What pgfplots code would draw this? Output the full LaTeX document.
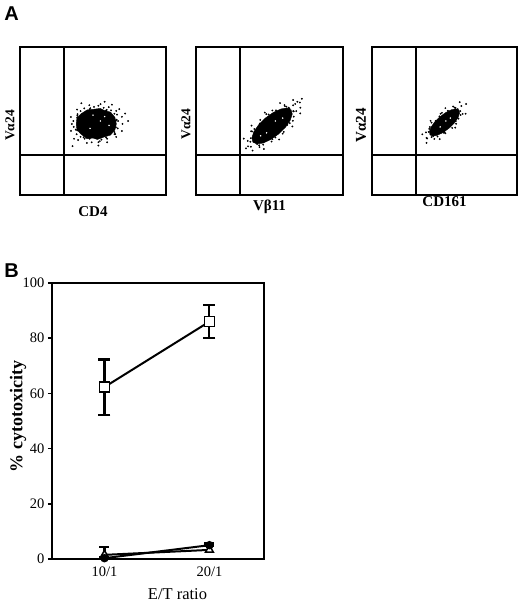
\documentclass[border=0pt]{standalone}
\usepackage{fontspec}
\setmainfont{Liberation Serif}
\newfontfamily\sansf{Liberation Sans}
\usepackage{pgfplots}
\pgfplotsset{compat=1.18}
\pgfplotsset{
  dotplot/.style={scale only axis, xmin=0, xmax=100, ymin=0, ymax=100,
    xtick=\empty, ytick=\empty, axis line style={line width=1.9pt}, clip=false},
  quad/.style={line width=2pt, black, mark=none},
  core/.style={fill=black, draw=black, line width=0.4pt, mark=none},
  specks/.style={only marks, mark=*, mark size=0.7pt, black},
  wspecks/.style={only marks, mark=*, mark size=0.5pt, white, mark options={draw=white, fill=white}},
}
\begin{document}
\begin{tikzpicture}[x=1pt,y=1pt]
\useasboundingbox (0pt,0pt) rectangle (520pt,603pt);
\node[font=\sansf\bfseries\fontsize{20}{22}\selectfont] at (11.5pt,589pt) {A};
\node[font=\sansf\bfseries\fontsize{20}{22}\selectfont] at (11.5pt,332pt) {B};

% ---- Plot 1: CD4
\begin{axis}[dotplot, at={(20pt,408pt)}, anchor=south west, width=146pt, height=148pt]
\addplot[quad] coordinates {(30,0) (30,100)};
\addplot[quad] coordinates {(0,27) (100,27)};
\addplot[core] coordinates {(66,48)(65,52.5)(62,56)(58,57)(55,58.5)(51,58)(46,57.5)(42,55)(39,52)(38.5,48)(39,44)(42,41)(46,38)(50,38.5)(53,37.5)(57,39)(62,40.5)(65,44)} -- cycle;
\addplot[specks] coordinates {(67.2,50.0)(66.5,54.3)(62.4,57.2)(57.3,58.9)(50.7,59.5)(44.0,58.5)(39.4,54.6)(36.6,50.0)(36.8,46.0)(38.8,41.1)(44.3,38.0)(49.1,35.6)(54.7,36.4)(59.7,38.0)(65.2,41.1)(66.9,45.0)
(70.2,48)(69.8,52.8)(65.9,56.8)(60.8,59.4)(55.2,61.4)(47.5,60.7)(39.1,57.7)(34.9,52.7)(34.9,43.3)(39.8,37.1)(45.8,35.2)(53.7,33.4)(59.7,35.6)(65.9,39.2)(69.8,43.2)
(72,55)(36,33)(58,63)(74,50)(42,62)(68,58)(63,61)(37,38)
(66.2,50.9)(59.4,57.5)(48.2,58.7)(39.3,53.5)(38.2,44.2)(43.6,39.0)(55.8,37.4)(64.7,42.5)
(65.7,50.2)(64.7,54.9)(59.0,57.1)(53.7,60.3)(47.7,58.0)(41.5,56.7)(39.2,52.3)(35.5,48)(39.2,43.7)(41.5,39.3)(47.7,38.0)(53.7,35.7)(59.0,38.9)(64.7,41.1)(65.7,45.8)};
\addplot[wspecks] coordinates {(55,50)(48,45)(58,53)(50,54)(61,47)};
\node[rotate=90, font=\bfseries\fontsize{13.5}{15}\selectfont] at (rel axis cs:-0.068,0.47) {Vα24};
\node[font=\bfseries\fontsize{15}{17}\selectfont] at (rel axis cs:0.5,-0.115) {CD4};
\end{axis}

% ---- Plot 2: Vbeta11
\begin{axis}[dotplot, at={(196pt,408pt)}, anchor=south west, width=147pt, height=148pt]
\addplot[quad] coordinates {(30,0) (30,100)};
\addplot[quad] coordinates {(0,27) (100,27)};
\addplot[core] coordinates {(64.7,57.5)(62.0,58.8)(57.7,58.1)(52.5,55.7)(47.2,52.0)(42.6,47.4)(39.3,42.7)(38.0,38.6)(38.7,35.7)(41.4,34.5)(45.7,35.1)(50.9,37.5)(56.2,41.2)(60.9,45.8)(64.1,50.5)(65.5,54.7)} -- cycle;
\addplot[specks] coordinates {(66.1,60.6)(60.2,60.8)(52.0,57.1)(43.7,50.7)(37.5,43.1)(35.2,36.5)(37.3,32.6)(43.2,32.4)(51.4,36.1)(59.7,42.6)(65.9,50.1)(68.2,56.7)
(70.6,62.5)(66.1,64.2)(57.2,62.1)(46.8,55.7)(37.8,46.9)(32.5,38.1)(34,31.5)(38.5,30)(46.2,31.1)(56.6,37.5)(65.6,46.3)(70.9,55.1)
(69,63)(72,65)(67.5,61.5)(71,59)(63,59)
(61.5,59.7)(49.4,54.4)(39.7,44.6)(37.0,36.0)(43.0,33.6)(54.0,38.9)(63.8,48.6)(66.5,56.5)
(63.5,58.4)(60.5,60.0)(54.4,57.2)(47.8,54.7)(43.4,48.3)(38.2,42.9)(37.3,38.4)(35.4,32.9)(41.6,34.4)(45.7,34.0)(52.0,37.7)(59.0,41.4)(62.1,47.4)(66.5,53.0)(66.1,56.7)};
\addplot[wspecks] coordinates {(54,50)(48,42)(59,52)(44,40)};
\node[rotate=90, font=\bfseries\fontsize{13.5}{15}\selectfont] at (rel axis cs:-0.068,0.48) {Vα24};
\node[font=\bfseries\fontsize{15}{17}\selectfont] at (rel axis cs:0.5,-0.08) {Vβ11};
\end{axis}

% ---- Plot 3: CD161
\begin{axis}[dotplot, at={(372pt,408pt)}, anchor=south west, width=145pt, height=148pt]
\addplot[quad] coordinates {(30,0) (30,100)};
\addplot[quad] coordinates {(0,27) (100,27)};
\addplot[core] coordinates {(60.0,57.4)(58.0,58.2)(54.8,57.6)(50.8,55.7)(46.8,52.8)(43.2,49.3)(40.7,45.8)(39.6,42.8)(40.0,40.6)(42.0,39.8)(45.2,40.4)(49.2,42.3)(53.2,45.2)(56.8,48.7)(59.3,52.2)(60.4,55.3)} -- cycle;
\addplot[specks] coordinates {(61.6,60.1)(56.0,59.8)(48.2,55.5)(41.1,48.9)(37.2,42.3)(38.0,38.2)(43.0,37.9)(50.6,41.7)(58.0,48.1)(62.5,54.8)
(64.9,61.5)(60.5,62.7)(50.6,58.7)(40.4,50.1)(34.7,41.0)(37.6,35.2)(46.7,37.8)(57.4,45.5)(64.5,54.9)
(57.6,58.9)(46.5,53.1)(39.5,44.7)(41.1,39.1)(49.6,42.0)(59.6,51.6)
(59.1,58.0)(56.9,59.1)(52.3,56.9)(47.3,54.9)(43.9,50.1)(39.9,45.9)(39.1,42.6)(37.6,38.6)(42.2,39.8)(45.2,39.5)(50.0,42.5)(55.3,45.3)(57.8,49.9)(61.1,54.1)(60.9,56.7)};
\addplot[wspecks] coordinates {(51,50)(47,46)(54,52)};
\node[rotate=90, font=\bfseries\fontsize{15}{17}\selectfont] at (rel axis cs:-0.076,0.47) {Vα24};
\node[font=\bfseries\fontsize{15}{17}\selectfont] at (rel axis cs:0.5,-0.045) {CD161};
\end{axis}

% ---- Panel B
\begin{axis}[scale only axis, at={(52pt,44pt)}, anchor=south west, width=212pt, height=276pt,
  xmin=0.5, xmax=2.52, ymin=0, ymax=100,
  xtick={1,2}, xticklabels={10/1,20/1},
  ytick={0,20,40,60,80,100},
  xtick pos=bottom, ytick pos=left,
  axis line style={line width=2pt},
  tick align=outside, major tick length=4pt,
  xtick style={draw=none}, ytick style={line width=1.6pt, black},
  ticklabel style={font=\fontsize{14.5}{16}\selectfont},
  /pgf/number format/assume math mode=true,
  clip=false]
\addplot[line width=2pt, black, mark=triangle*, mark options={fill=white, mark size=4.5pt, line width=1.5pt},
  error bars/.cd, y dir=plus, y explicit, error bar style={line width=2.1pt},
  error mark options={rotate=90, mark size=5pt, line width=2.1pt}]
  coordinates {(1,1.5) +- (0,2.8) (2,3.3) +- (0,1.6)};
\addplot[line width=2pt, black, mark=*, mark options={mark size=3.2pt},
  error bars/.cd, y dir=plus, y explicit, error bar style={line width=2.1pt},
  error mark options={rotate=90, mark size=5pt, line width=2.1pt}]
  coordinates {(1,0.3) +- (0,0.5) (2,5.0) +- (0,0.8)};
\addplot[line width=2pt, black, mark=square*, mark options={fill=white, mark size=5pt, line width=1.6pt},
  error bars/.cd, y dir=both, y explicit, error bar style={line width=2.1pt},
  error mark options={rotate=90, mark size=6pt, line width=2.1pt}]
  coordinates {(1,62.3) +- (0,10) (2,86) +- (0,6)};
\node[rotate=90, font=\bfseries\fontsize{18}{20}\selectfont] at (rel axis cs:-0.16,0.516) {\% cytotoxicity};
\node[font=\fontsize{16.5}{18}\selectfont] at (rel axis cs:0.592,-0.128) {E/T ratio};
\end{axis}
\end{tikzpicture}
\end{document}
